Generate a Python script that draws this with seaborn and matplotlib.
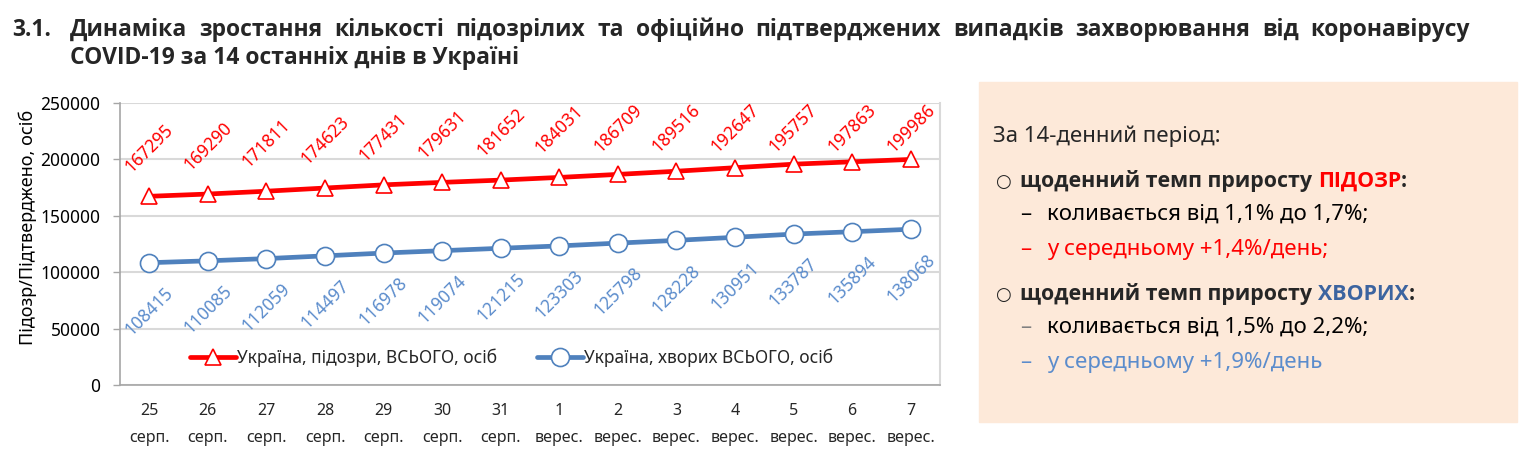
import matplotlib
matplotlib.use("Agg")
import matplotlib.pyplot as plt
import matplotlib.transforms as mtransforms
from matplotlib.patches import Rectangle
from matplotlib.ticker import FixedLocator
import pandas as pd
import seaborn as sns

# data
days = ["25", "26", "27", "28", "29", "30", "31", "1", "2", "3", "4", "5", "6", "7"]
months = ["серп."] * 7 + ["верес."] * 7
suspected = [167295, 169290, 171811, 174623, 177431, 179631, 181652,
             184031, 186709, 189516, 192647, 195757, 197863, 199986]
confirmed = [108415, 110085, 112059, 114497, 116978, 119074, 121215,
             123303, 125798, 128228, 130951, 133787, 135894, 138068]
label_susp = "Україна, підозри, ВСЬОГО, осіб"
label_conf = "Україна, хворих ВСЬОГО, осіб"
title_1 = ("Динаміка зростання кількості підозрілих та офіційно підтверджених "
           "випадків захворювання від коронавірусу")
title_2 = "COVID-19 за 14 останніх днів в Україні"

RED = "#ff0000"
BLUE = "#4f81bd"
BLUE_TXT = "#5b8ccc"
BOLD_FONT = ["Open Sans", "DejaVu Sans"]

sns.set_theme(style="white")
plt.rcParams["font.family"] = ["Noto Sans", "DejaVu Sans"]

W, H = 1536, 459
fig = plt.figure(figsize=(W / 100, H / 100), dpi=100)
renderer = fig.canvas.get_renderer()


def fx(px):
    return px / W


def fy(py):
    return 1 - py / H


def width_px(t):
    return t.get_window_extent(renderer).width


AX_L, AX_R, AX_T, AX_B = 120, 940, 103, 385
ax = fig.add_axes([fx(AX_L), fy(AX_B), fx(AX_R) - fx(AX_L), fy(AX_T) - fy(AX_B)])

cats = [f"{d}\n{m}" for d, m in zip(days, months)]
df = pd.DataFrame({"day": cats, "susp": suspected, "conf": confirmed})

sns.lineplot(data=df, x="day", y="susp", ax=ax, color=RED, lw=3.4,
             marker="^", markersize=12, markerfacecolor="white",
             markeredgecolor=RED, markeredgewidth=1.2, label=label_susp,
             sort=False)
sns.lineplot(data=df, x="day", y="conf", ax=ax, color=BLUE, lw=3.4,
             marker="o", markersize=13, markerfacecolor="white",
             markeredgecolor=BLUE, markeredgewidth=1.2, label=label_conf,
             sort=False)

ax.set_xlim(-0.5, len(days) - 0.5)
ax.set_ylim(0, 250000)

# data labels: red ones sit ~48px above the point but stay inside the plot area
ax_h = AX_B - AX_T
cap = 1 - (128 - AX_T) / ax_h
blend = mtransforms.blended_transform_factory(ax.transData, ax.transAxes)
for i, (s, c) in enumerate(zip(suspected, confirmed)):
    y_frac = min(s / 250000 + 48 / ax_h, cap)
    ax.text(i, y_frac, str(s), transform=blend, rotation=45, ha="center",
            va="center", color=RED, fontsize=12.5)
    ax.annotate(str(c), (i, c), xytext=(0, -35), textcoords="offset points",
                rotation=45, ha="center", va="center", color=BLUE_TXT,
                fontsize=12.5)

ax.set_yticks(range(0, 250001, 50000))
ax.set_yticklabels([str(v) for v in range(0, 250001, 50000)], fontsize=12.5,
                   color="black")
ax.set_xticks(range(len(days)))
ax.set_xticklabels(cats, fontsize=11.5, linespacing=1.95, color="#262626")
ax.xaxis.set_minor_locator(FixedLocator([i - 0.5 for i in range(len(days) + 1)]))
ax.tick_params(axis="x", which="major", length=0, pad=13)
ax.tick_params(axis="x", which="minor", length=5, color="#a6a6a6", width=1)
ax.tick_params(axis="y", length=5, color="#a6a6a6", width=1, pad=9, left=True)
ax.set_xlabel("")
ax.set_ylabel("Підозр/Підтверджено, осіб", fontsize=13, color="black")
ax.yaxis.set_label_coords(-0.101, 0.557)
ax.grid(axis="y", color="#d9d9d9", lw=1.5)
for side in ["left", "bottom"]:
    ax.spines[side].set_color("#a6a6a6")
    ax.spines[side].set_linewidth(1.2)
ax.spines["top"].set_visible(False)
ax.spines["right"].set_color("#d9d9d9")
ax.spines["right"].set_linewidth(1.5)

ax.legend(loc="center", bbox_to_anchor=(0.478, 0.096), ncol=2, frameon=False,
          fontsize=12.5, handlelength=2.6, columnspacing=2.3, handletextpad=0.1)

# title, first line justified between x=70 and x=1470
TS = 16.5
fig.text(fx(12), fy(36), "3.1.", fontsize=TS, weight="bold", va="baseline",
         family=BOLD_FONT)
words = title_1.split()
word_texts = [fig.text(0, fy(36), w, fontsize=TS, weight="bold",
                       va="baseline", family=BOLD_FONT) for w in words]
total = sum(width_px(t) for t in word_texts)
gap = (1470 - 70 - total) / (len(words) - 1)
x = 70
for t in word_texts:
    t.set_x(fx(x))
    x += width_px(t) + gap
fig.text(fx(70), fy(64), title_2, fontsize=TS, weight="bold", va="baseline",
         family=BOLD_FONT)

# side panel
fig.patches.append(Rectangle((fx(979), fy(422)), fx(1517) - fx(979),
                             fy(82) - fy(422), transform=fig.transFigure,
                             color="#fde9d9", zorder=0))

FS = 16
fig.text(fx(993), fy(142), "За 14-денний період:", fontsize=FS, va="baseline")


def bold_line(py, word, color):
    fig.text(fx(995), fy(py), "○", fontsize=FS - 3, va="baseline")
    t = fig.text(fx(1020), fy(py), "щоденний темп приросту", fontsize=FS - 0.6,
                 weight="bold", va="baseline", family=BOLD_FONT)
    x = 1020 + width_px(t) + 6
    w = fig.text(fx(x), fy(py), word, fontsize=FS - 0.6, weight="bold",
                 va="baseline", color=color, family=BOLD_FONT)
    x += width_px(w)
    fig.text(fx(x), fy(py), ":", fontsize=FS - 0.6, weight="bold",
             va="baseline", family=BOLD_FONT)


def dash_line(py, text, color, dash_color):
    fig.text(fx(1020), fy(py), "–", fontsize=FS, va="baseline", color=dash_color)
    fig.text(fx(1047), fy(py), text, fontsize=FS, va="baseline", color=color)


bold_line(187, "ПІДОЗР", RED)
dash_line(220, "коливається від 1,1% до 1,7%;", "black", "black")
dash_line(255, "у середньому +1,4%/день;", RED, RED)
bold_line(300, "ХВОРИХ", "#3c64a0")
dash_line(333, "коливається від 1,5% до 2,2%;", "black", "#808080")
dash_line(368, "у середньому +1,9%/день", BLUE_TXT, BLUE_TXT)

fig.savefig("out.png", dpi=100)
